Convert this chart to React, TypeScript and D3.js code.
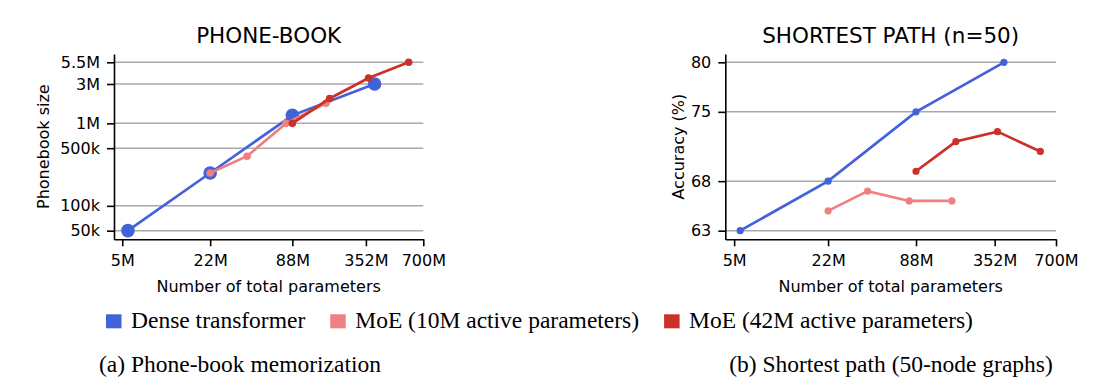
import React, { useEffect, useRef } from 'react';
import * as d3 from 'd3';

const seriesNames = ['Dense transformer', 'MoE (10M active parameters)', 'MoE (42M active parameters)'];
const seriesColors = ['#4262da', '#f08080', '#cc3128'];

// the "352M" and "700M" ticks of the original sit at ~304M / ~800M on its log axis
const xTickValues = [5e6, 22e6, 88e6, 304e6, 800e6];
const xTickLabels = ['5M', '22M', '88M', '352M', '700M'];

const denseParams = [5.5e6, 22e6, 88e6, 352e6];
const moe10Params = [22e6, 41e6, 79e6, 155e6];
const moe42Params = [88e6, 165e6, 318e6, 625e6];

const phonebookDense = [50e3, 250e3, 1.25e6, 3e6];
const phonebookMoe10 = [250e3, 400e3, 1e6, 1.75e6];
const phonebookMoe42 = [1e6, 2e6, 3.55e6, 5.5e6];
const phonebookTicks = [5e4, 1e5, 5e5, 1e6, 3e6, 5.5e6];
const phonebookTickLabels = ['50k', '100k', '500k', '1M', '3M', '5.5M'];

const pathDense = [63, 68, 75, 80];
const pathMoe10 = [65, 67, 66, 66];
const pathMoe42 = [69, 72, 73, 71];
const pathTicks = [63, 68, 75, 80];
const pathTickLabels = ['63', '68', '75', '80'];

const captions = ['(a) Phone-book memorization', '(b) Shortest path (50-node graphs)'];

const SANS = 'DejaVu Sans, sans-serif';
const SERIF = 'Liberation Serif, Times New Roman, serif';

interface Series { params: number[]; values: number[]; color: string; r: number }

interface PanelOpts {
    x0: number;
    x1: number;
    y: d3.ScaleContinuousNumeric<number, number>;
    title: string;
    yLabel: string;
    yLabelX: number;
    yTicks: number[];
    yTickLabels: string[];
    series: Series[];
}

const TOP = 54;
const BOTTOM = 239.3;

function drawPanel(svg: d3.Selection<SVGSVGElement, unknown, null, undefined>, o: PanelOpts) {
    const x = d3.scaleLog().domain([4.35e6, 8e8]).range([o.x0, o.x1]);
    const g = svg.append('g');

    // grid
    g.append('g')
        .selectAll('line')
        .data(o.yTicks)
        .join('line')
        .attr('x1', o.x0)
        .attr('x2', o.x1)
        .attr('y1', d => o.y(d))
        .attr('y2', d => o.y(d))
        .attr('stroke', '#aaaaaa')
        .attr('stroke-width', 1.5);

    // axes
    const yAxis = g.append('g')
        .attr('transform', `translate(${o.x0},0)`)
        .call(d3.axisLeft(o.y)
            .tickValues(o.yTicks)
            .tickFormat((_d, i) => o.yTickLabels[i])
            .tickSize(7)
            .tickSizeOuter(0)
            .tickPadding(7));

    const xAxis = g.append('g')
        .attr('transform', `translate(0,${BOTTOM})`)
        .call(d3.axisBottom(x)
            .tickValues(xTickValues)
            .tickFormat((_d, i) => xTickLabels[i])
            .tickSize(7)
            .tickSizeOuter(0)
            .tickPadding(8));

    [yAxis, xAxis].forEach(a => {
        a.selectAll('path, line').attr('stroke', '#000').attr('stroke-width', 1.6);
        a.selectAll('text')
            .attr('fill', '#000')
            .style('font-family', SANS)
            .style('font-size', '16px');
    });

    // series
    o.series.forEach(s => {
        const pts = s.params.map((p, i) => [p, s.values[i]] as [number, number]);
        g.append('path')
            .datum(pts)
            .attr('fill', 'none')
            .attr('stroke', s.color)
            .attr('stroke-width', 2.7)
            .attr('d', d3.line<[number, number]>()
                .x(d => x(d[0]))
                .y(d => o.y(d[1])));
        g.append('g')
            .selectAll('circle')
            .data(pts)
            .join('circle')
            .attr('cx', d => x(d[0]))
            .attr('cy', d => o.y(d[1]))
            .attr('r', s.r)
            .attr('fill', s.color);
    });

    // labels
    g.append('text')
        .attr('x', (o.x0 + o.x1) / 2)
        .attr('y', 43)
        .attr('text-anchor', 'middle')
        .style('font-family', SANS)
        .style('font-size', '21.5px')
        .text(o.title);

    g.append('text')
        .attr('x', (o.x0 + o.x1) / 2)
        .attr('y', 292)
        .attr('text-anchor', 'middle')
        .style('font-family', SANS)
        .style('font-size', '16px')
        .text('Number of total parameters');

    g.append('text')
        .attr('transform', `translate(${o.yLabelX},${(TOP + BOTTOM) / 2}) rotate(-90)`)
        .attr('text-anchor', 'middle')
        .style('font-family', SANS)
        .style('font-size', '16px')
        .text(o.yLabel);
}

const App: React.FC = () => {
    const svgRef = useRef<SVGSVGElement>(null);

    useEffect(() => {
        document.body.style.margin = '0';
        const svg = d3.select(svgRef.current as SVGSVGElement);
        svg.selectAll('*').remove();

        const yPhone = d3.scaleLog().domain([39.3e3, 6.93e6]).range([BOTTOM, TOP]);
        drawPanel(svg, {
            x0: 114, x1: 423.3, y: yPhone,
            title: 'PHONE-BOOK', yLabel: 'Phonebook size', yLabelX: 49,
            yTicks: phonebookTicks, yTickLabels: phonebookTickLabels,
            series: [
                { params: denseParams, values: phonebookDense, color: seriesColors[0], r: 6.8 },
                { params: moe10Params, values: phonebookMoe10, color: seriesColors[1], r: 3.8 },
                { params: moe42Params, values: phonebookMoe42, color: seriesColors[2], r: 3.8 },
            ],
        });

        const yPath = d3.scaleLinear().domain([62.13, 80.84]).range([BOTTOM, TOP]);
        drawPanel(svg, {
            x0: 725.3, x1: 1056, y: yPath,
            title: 'SHORTEST PATH (n=50)', yLabel: 'Accuracy (%)', yLabelX: 684,
            yTicks: pathTicks, yTickLabels: pathTickLabels,
            series: [
                { params: denseParams, values: pathDense, color: seriesColors[0], r: 3.6 },
                { params: moe10Params, values: pathMoe10, color: seriesColors[1], r: 3.6 },
                { params: moe42Params, values: pathMoe42, color: seriesColors[2], r: 3.6 },
            ],
        });

        // legend, laid out left to right
        const legend = svg.append('g');
        let lx = 106;
        seriesNames.forEach((name, i) => {
            legend.append('rect')
                .attr('x', lx).attr('y', 314.3)
                .attr('width', 15.5).attr('height', 14)
                .attr('fill', seriesColors[i]);
            const t = legend.append('text')
                .attr('x', lx + 25)
                .attr('y', 328.3)
                .style('font-family', SERIF)
                .style('font-size', '23.5px')
                .text(name);
            const w = (t.node() as SVGTextElement).getComputedTextLength();
            lx += 25 + w + 25;
        });

        // sub-captions
        [240, 891].forEach((cx, i) => {
            svg.append('text')
                .attr('x', cx)
                .attr('y', 372)
                .attr('text-anchor', 'middle')
                .style('font-family', SERIF)
                .style('font-size', '23.5px')
                .text(captions[i]);
        });
    }, []);

    return <svg ref={svgRef} width={1110} height={388} style={{ display: 'block', background: '#fff' }}></svg>;
};

export default App;
